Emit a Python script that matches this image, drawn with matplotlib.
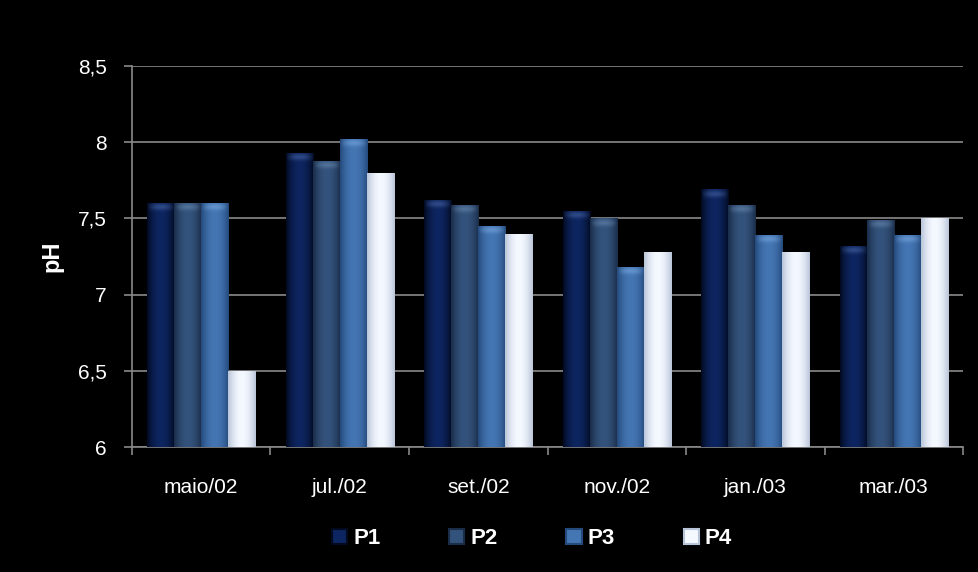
import numpy as np
import matplotlib
matplotlib.use("Agg")
import matplotlib.pyplot as plt
from matplotlib.colors import LinearSegmentedColormap, to_rgb
from matplotlib.patches import Rectangle

plt.rcParams['font.family'] = ['Liberation Sans', 'DejaVu Sans']

categories = ["maio/02", "jul./02", "set./02", "nov./02", "jan./03", "mar./03"]
series_names = ["P1", "P2", "P3", "P4"]
p1 = [7.60, 7.93, 7.62, 7.55, 7.69, 7.32]
p2 = [7.60, 7.88, 7.59, 7.50, 7.59, 7.49]
p3 = [7.60, 8.02, 7.45, 7.18, 7.39, 7.39]
p4 = [6.50, 7.80, 7.40, 7.28, 7.28, 7.50]
y_ticks = [6, 6.5, 7, 7.5, 8, 8.5]
y_tick_labels = ["6", "6,5", "7", "7,5", "8", "8,5"]

# edge / centre shades for each series' horizontal gradient
shades = [
    ("#020a20", "#0d2560"),
    ("#1a2c48", "#34537c"),
    ("#254a7c", "#4476b4"),
    ("#b8c4d8", "#f4f8ff"),
]
highlights = ["#4a68a8", "#6a8ab0", "#7aaae0", None]

fig = plt.figure(figsize=(9.79, 5.72), dpi=100, facecolor="black")
ax = fig.add_axes([0.1348, 0.2185, 0.849, 0.666])
ax.set_facecolor("black")

x = np.arange(len(categories))
bar_w = 0.195
data = [p1, p2, p3, p4]
ymin = 6.0

grad = np.linspace(-1, 1, 64)
grad = 1 - grad ** 2
grad = np.vstack([grad, grad])

# soft glow near the top of each column: alpha fades downward
glow_h = 0.12
fade = np.linspace(0, 1, 32)
glow_alpha = np.exp(-((fade - 0.75) / 0.18) ** 2) * 0.55
xs = np.linspace(-1, 1, 32)
glow_alpha = glow_alpha[:, None] * (1 - xs[None, :] ** 2)

for i, (vals, (edge, centre)) in enumerate(zip(data, shades)):
    cmap = LinearSegmentedColormap.from_list(f"g{i}", [edge, centre])
    offs = (i - 1.5) * bar_w
    bars = ax.bar(x + offs, np.array(vals) - ymin, bottom=ymin, width=bar_w,
                  color=centre, edgecolor="none", zorder=2, label=series_names[i])
    for b in bars:
        bx, by = b.get_x(), b.get_y()
        bw, bh = b.get_width(), b.get_height()
        im = ax.imshow(grad, cmap=cmap, aspect="auto", interpolation="bicubic",
                       extent=[bx, bx + bw, by, by + bh], zorder=3)
        im.set_clip_path(b)
        if highlights[i] is not None:
            rgba = np.zeros((32, 32, 4))
            rgba[..., :3] = to_rgb(highlights[i])
            rgba[..., 3] = glow_alpha
            g = ax.imshow(rgba, aspect="auto", interpolation="bilinear", origin="lower",
                          extent=[bx, bx + bw, by + bh - glow_h, by + bh], zorder=4)
            g.set_clip_path(b)

ax.set_xlim(-0.5, len(categories) - 0.5)
ax.set_ylim(6, 8.5)
ax.set_yticks(y_ticks)
ax.set_yticklabels(y_tick_labels)
ax.set_xticks(x)
ax.set_xticklabels(categories)
ax.set_xticks(np.arange(-0.5, len(categories)), minor=True)

ax.tick_params(axis="x", which="major", length=0, colors="white", labelsize=15, pad=22)
ax.tick_params(axis="x", which="minor", length=6, color="#888888", width=1.2, direction="out")
ax.tick_params(axis="y", length=6, color="#888888", width=1.2, labelcolor="white",
               labelsize=15, pad=12)

ax.grid(axis="y", color="#8a8a8a", linewidth=1.2, zorder=0)
ax.set_axisbelow(True)
for s in ["top", "right"]:
    ax.spines[s].set_visible(False)
for s in ["left", "bottom"]:
    ax.spines[s].set_color("#8a8a8a")
    ax.spines[s].set_linewidth(1.2)

ax.set_ylabel("pH", color="white", fontsize=17, fontweight="bold")
ax.yaxis.set_label_coords(-0.083, 0.5)

handles = []
for (edge, centre), name in zip(shades, series_names):
    handles.append(Rectangle((0, 0), 1, 1, facecolor=centre, edgecolor=edge, linewidth=1.5))
leg = fig.legend(handles, series_names, loc="center", bbox_to_anchor=(0.5434, 0.058),
                 ncol=4, frameon=False, handlelength=0.68, handleheight=0.68,
                 handletextpad=0.27, columnspacing=3.1,
                 prop={"size": 16, "weight": "bold"})
for t in leg.get_texts():
    t.set_color("white")

fig.savefig("out.png", dpi=100, facecolor="black")
